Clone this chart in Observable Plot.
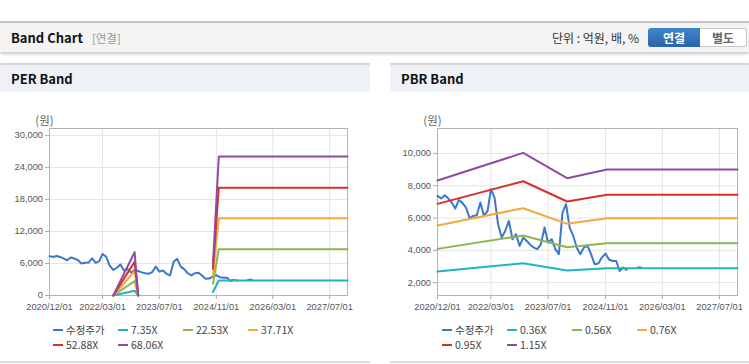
<!DOCTYPE html>
<html><head><meta charset="utf-8">
<script src="https://cdn.jsdelivr.net/npm/d3@7"></script>
<script src="https://cdn.jsdelivr.net/npm/@observablehq/plot@0.6"></script>
<style>
html,body{margin:0;padding:0;background:#fff;}
body{width:749px;height:364px;position:relative;overflow:hidden;font-family:"Noto Sans CJK KR","Noto Sans",sans-serif;}
.topline{position:absolute;left:0;top:21px;width:749px;height:2px;background:#c4c4c4;}
.header{position:absolute;left:0;top:23px;width:749px;height:29px;background:#f4f4f4;box-shadow:0 2px 3px rgba(0,0,0,0.22);}
.title{position:absolute;left:11px;top:0;line-height:29px;font-size:13px;font-weight:bold;color:#111;white-space:nowrap;}
.sub{color:#9a9a9a;font-weight:normal;font-size:11.5px;margin-left:9px;}
.unit{position:absolute;left:552px;top:0;line-height:29px;font-size:12px;color:#333;white-space:nowrap;}
.btn{position:absolute;top:5px;height:19px;line-height:19px;text-align:center;font-size:12px;font-weight:bold;box-sizing:border-box;}
.btn1{left:648px;width:52px;background:linear-gradient(#4086cc,#2a63a8);color:#fff;border-radius:3px 0 0 3px;}
.btn2{left:700px;width:47px;background:#fff;color:#666;border:1px solid #c8c8c8;border-left:none;border-radius:0 3px 3px 0;line-height:17px;}
.panel{position:absolute;top:63px;height:296px;border-top:2px solid #d7d7d7;border-bottom:2px solid #dcdcdc;background:#fff;}
.ptitle{height:27px;line-height:27px;background:#eef2f7;font-size:13px;font-weight:bold;padding-left:11px;color:#111;}
.chart{position:absolute;top:100px;}
.legend{position:absolute;top:322px;display:grid;grid-template-columns:repeat(4,65px);grid-auto-rows:15px;font-size:10.5px;color:#444;}
.legend div{white-space:nowrap;line-height:15px;height:15px;}
.sw{display:inline-block;width:10px;height:2px;vertical-align:middle;margin-right:3px;position:relative;top:-1px;}
</style></head>
<body>
<div class="topline"></div>
<div class="header">
  <div class="title">Band Chart<span class="sub">[연결]</span></div>
  <div class="unit">단위 : 억원, 배, %</div>
  <div class="btn btn1">연결</div>
  <div class="btn btn2">별도</div>
</div>
<div class="panel" style="left:0;width:370px;"><div class="ptitle">PER Band</div></div>
<div class="panel" style="left:390px;width:370px;"><div class="ptitle">PBR Band</div></div>
<div id="per" class="chart" style="left:0;"></div>
<div id="pbr" class="chart" style="left:390px;"></div>
<div id="legPer" class="legend" style="left:53px;"></div>
<div id="legPbr" class="legend" style="left:442px;"></div>
<script>
// ---- data ----
const xTickLabels = ["2020/12/01","2022/03/01","2023/07/01","2024/11/01","2026/03/01","2027/07/01"];
const xDomain = ["2020-12-01","2027-12-01"];

const priceStart = "2020-12-01"; // monthly values from this month
const priceValues = [7375,7210,7415,7230,6960,6590,7125,6940,6650,5990,6130,6175,6960,6130,6445,7790,7270,5620,4790,5200,5820,4690,5000,4275,4790,4580,4335,4170,4070,4380,5410,4480,4690,4070,3760,6340,6860,5410,4890,4170,3760,4170,4275,3760,3140,3180,3550,3800,3430,3340,3340,2720,2930,2790,null,null,2930,2930];

const perYTicks = [0,6000,12000,18000,24000,30000];
const perYDomain = [0,31300];
const perLabels = ["수정주가","7.35X","22.53X","37.71X","52.88X","68.06X"];
const perDates = ["2022-06-01","2022-12-01","2023-01-01","2023-01-02","2024-10-03","2024-11-22","2027-12-01"];
const per735  = [0, 900, 0, null, 650, 2810, 2810];
const per2253 = [0, 2700, 0, null, 2200, 8680, 8680];
const per3771 = [0, 4550, 0, null, 3700, 14490, 14490];
const per5288 = [0, 6300, 0, null, 5000, 20190, 20190];
const per6806 = [0, 8120, 0, null, 5940, 26060, 26060];

const pbrYTicks = [2000,4000,6000,8000,10000];
const pbrYDomain = [1200,11550];
const pbrLabels = ["수정주가","0.36X","0.56X","0.76X","0.95X","1.15X"];
const pbrDates = ["2020-12-01","2022-12-01","2023-12-10","2024-11-15","2027-12-01"];
const pbr036 = [2680, 3200, 2745, 2890, 2890];
const pbr056 = [4090, 4915, 4190, 4435, 4435];
const pbr076 = [5535, 6610, 5640, 5990, 5990];
const pbr095 = [6880, 8280, 7025, 7440, 7440];
const pbr115 = [8325, 10040, 8470, 9010, 9010];

const colors = ["#3a78cc","#22b1c6","#8db650","#f4a93d","#d8312b","#8e4b9f"];

// ---- build ----
const parse = d3.utcParse("%Y/%m/%d");
const xTicks = xTickLabels.map(parse);
const price = priceValues.map((v,i)=>({date: d3.utcMonth.offset(new Date(priceStart), i), value: v}));
function series(dates, vals){ return dates.map((d,i)=>({date:new Date(d), value: vals[i]})); }

function chart({width, marginLeft, marginRight, yDomain, yTicks, bands}){
  return Plot.plot({
    width, height: 215, marginTop: 28, marginBottom: 20, marginLeft, marginRight,
    style: {fontFamily: "'Liberation Sans', Arial, sans-serif", fontSize: "9.3px", background: "transparent"},
    x: {type: "utc", domain: xDomain.map(d=>new Date(d))},
    y: {domain: yDomain},
    marks: [
      Plot.gridX(xTicks, {stroke: "#e4e4e4", strokeOpacity: 1}),
      Plot.gridY(yTicks, {stroke: "#e4e4e4", strokeOpacity: 1}),
      Plot.axisX(xTicks, {tickFormat: d3.utcFormat("%Y/%m/%d"), tickSize: 4, tickPadding: 4, stroke: "#a8a8a8", fill: "#555", label: null}),
      Plot.axisY(yTicks, {tickFormat: d3.format(","), tickSize: 4, tickPadding: 2.5, stroke: "#a8a8a8", fill: "#555", label: null}),
      Plot.frame({stroke: "#b3b3b3"}),
      Plot.text(["(원)"], {frameAnchor: "top-left", dx: -5, dy: -12, textAnchor: "middle", fontSize: 11.5, fill: "#666", fontFamily: "Noto Sans CJK KR"}),
      Plot.line(price, {x: "date", y: "value", stroke: colors[0], strokeWidth: 2}),
      ...bands.map((b,i)=>Plot.line(b, {x: "date", y: "value", stroke: colors[i+1], strokeWidth: 2}))
    ]
  });
}

document.getElementById("per").append(chart({
  width: 370, marginLeft: 49, marginRight: 23, yDomain: perYDomain, yTicks: perYTicks,
  bands: [per735, per2253, per3771, per5288, per6806].map(v=>series(perDates, v))
}));
document.getElementById("pbr").append(chart({
  width: 359, marginLeft: 47, marginRight: 12, yDomain: pbrYDomain, yTicks: pbrYTicks,
  bands: [pbr036, pbr056, pbr076, pbr095, pbr115].map(v=>series(pbrDates, v))
}));

function legend(id, labels){
  const el = document.getElementById(id);
  labels.forEach((l,i)=>{
    const d = document.createElement("div");
    d.innerHTML = `<span class="sw" style="background:${colors[i]}"></span>${l}`;
    el.append(d);
  });
}
legend("legPer", perLabels);
legend("legPbr", pbrLabels);
</script>
</body></html>
